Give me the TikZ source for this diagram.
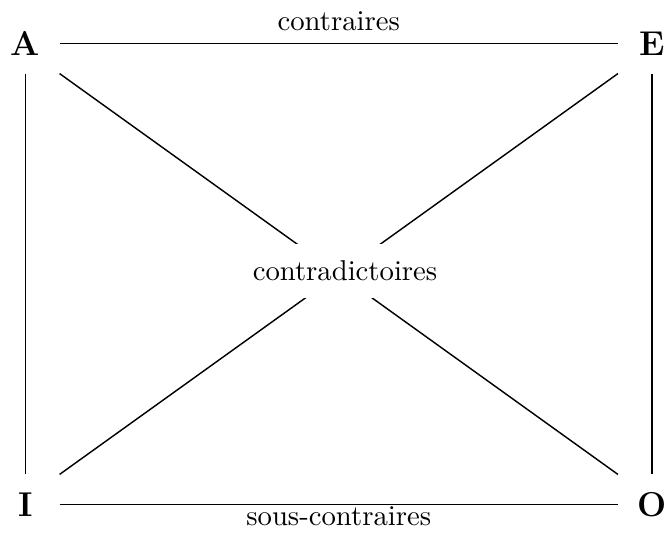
\documentclass[tikz,border=0pt]{standalone}
\begin{document}
\begin{tikzpicture}[x=0.34843pt,y=-0.34843pt,
  corner/.style={font=\large\bfseries, minimum width=23.34pt, minimum height=20.56pt, inner sep=0pt},
  rel/.style={line width=0.5pt},
  lab/.style={font=\normalsize}]
\useasboundingbox (0,0) rectangle (668,536);
\node[corner] (A) at (25.5,43.5) {A};
\node[corner] (E) at (652,43.5) {E};
\node[corner] (I) at (25.5,504.5) {I};
\node[corner] (O) at (652,504.5) {O};
\draw[rel] (A.east) -- node[lab, above, inner sep=0pt, yshift=4.2pt] (ct) {contraires} (E.west);
\draw[rel] (I.east) -- node[lab, below, inner sep=0pt, yshift=-0.6pt] (sc) {sous-contraires} (O.west);
\draw[rel] (A.south) -- (I.north);
\draw[rel] (E.south) -- (O.north);
\draw[rel] (A.south east) -- (O.north west);
\draw[rel] (E.south west) -- (I.north east);
\node[lab, fill=white, inner xsep=4pt, inner ysep=5.9pt] (cd) at (345,271) {contradictoires};
\end{tikzpicture}
\end{document}
